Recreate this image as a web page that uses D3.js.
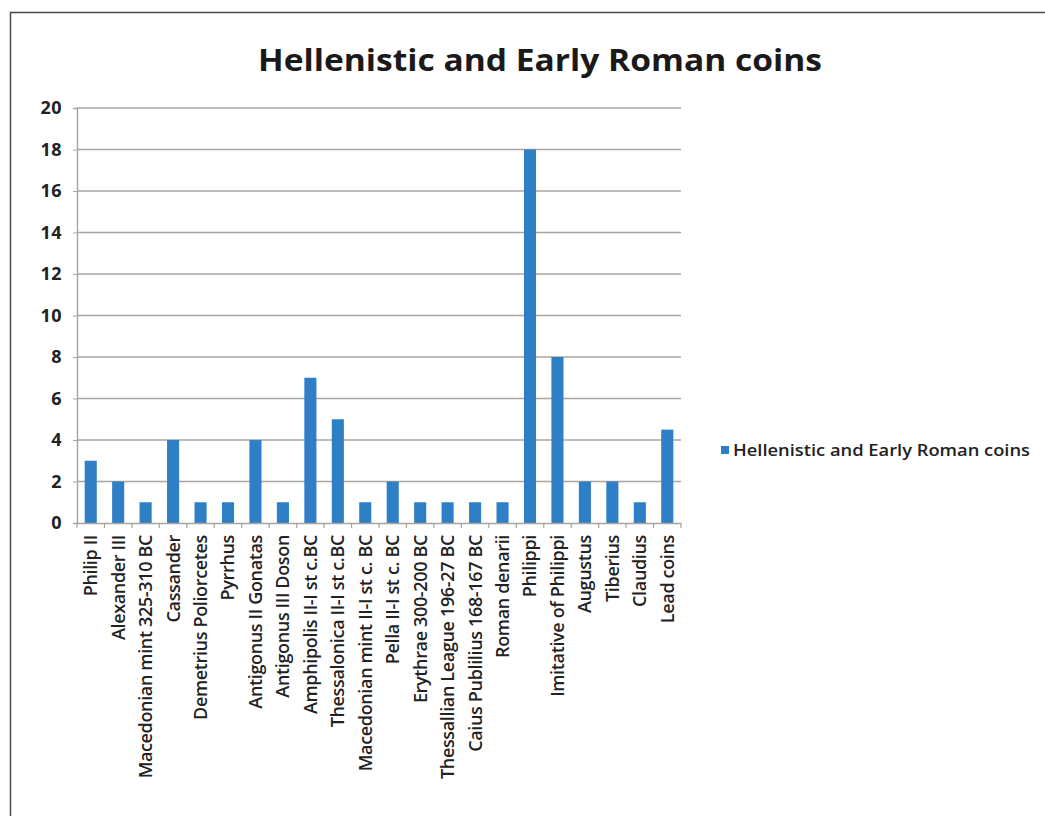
<!DOCTYPE html>
<html><head><meta charset="utf-8">
<script src="https://cdn.jsdelivr.net/npm/d3@7"></script>
<style>
html,body{margin:0;padding:0;background:#fff;}
svg{display:block;}
text{font-family:"Open Sans","Noto Sans",sans-serif;}
</style></head>
<body>
<svg id="c" width="1045" height="816"></svg>
<script>
const categories = ["Philip II","Alexander III","Macedonian mint 325-310 BC","Cassander","Demetrius Poliorcetes","Pyrrhus","Antigonus II Gonatas","Antigonus III Doson","Amphipolis II-I st c.BC","Thessalonica II-I st c.BC","Macedonian mint II-I st c. BC","Pella II-I st c. BC","Erythrae 300-200 BC","Thessallian League 196-27 BC","Caius Publilius 168-167 BC","Roman denarii","Philippi","Imitative of Philippi","Augustus","Tiberius","Claudius","Lead coins"];
const values = [3,2,1,4,1,1,4,1,7,5,1,2,1,1,1,1,18,8,2,2,1,4.5];
const yTicks = [0,2,4,6,8,10,12,14,16,18,20];
const seriesName = "Hellenistic and Early Roman coins";
const titleText = "Hellenistic and Early Roman coins";

const svg = d3.select("#c");
const color = "#2f7fc6";
const gridColor = "#aba49e";

// frame
svg.append("rect").attr("x",10.5).attr("y",12.5).attr("width",1100).attr("height",900)
  .attr("fill","none").attr("stroke","#4a4a4a").attr("stroke-width",1.5);

const x = d3.scaleBand().domain(categories).range([77,681]).paddingInner(0.56).paddingOuter(0.28);
const y = d3.scaleLinear().domain([0,20]).range([523,108]);

// gridlines
svg.append("g").selectAll("line").data(yTicks.filter(d=>d>0)).join("line")
  .attr("x1",77).attr("x2",681).attr("y1",d=>y(d)).attr("y2",d=>y(d))
  .attr("stroke",gridColor).attr("stroke-width",1.4);

// y axis
const ya = svg.append("g").attr("transform","translate(77,0)")
  .call(d3.axisLeft(y).tickValues(yTicks).tickSize(4).tickPadding(11));
ya.select(".domain").attr("stroke",gridColor).attr("stroke-width",1.4);
ya.selectAll(".tick line").attr("stroke",gridColor);
ya.selectAll("text").attr("font-size",18).attr("font-weight",700).attr("fill","#222")
  .attr("font-family","'Open Sans',sans-serif").attr("letter-spacing","0.5");

// bars
svg.append("g").selectAll("rect").data(values).join("rect")
  .attr("x",(d,i)=>x(categories[i])).attr("width",x.bandwidth())
  .attr("y",d=>y(d)).attr("height",d=>y(0)-y(d)).attr("fill",color);

// x axis
const xa = svg.append("g").attr("transform","translate(0,523)")
  .call(d3.axisBottom(x).tickSize(0).tickPadding(0));
xa.select(".domain").attr("stroke",gridColor).attr("stroke-width",1.4);
xa.selectAll(".tick text")
  .attr("transform","rotate(-90)")
  .attr("x",-12).attr("y",0).attr("dy","0.36em")
  .attr("text-anchor","end")
  .attr("font-size",18).attr("font-weight",600).attr("fill","#222")
  .attr("font-family","'Open Sans',sans-serif")
  .attr("letter-spacing","-0.35");
// category separators
svg.append("g").selectAll("line").data(d3.range(categories.length+1)).join("line")
  .attr("x1",i=>77+i*(604/categories.length)).attr("x2",i=>77+i*(604/categories.length))
  .attr("y1",523).attr("y2",528).attr("stroke",gridColor).attr("stroke-width",1.2);

// title
svg.append("text").attr("x",540).attr("y",71).attr("text-anchor","middle")
  .attr("font-size",31).attr("font-weight",700).attr("fill","#1a1a1a")
  .attr("textLength",564).attr("lengthAdjust","spacingAndGlyphs")
  .text(titleText);

// legend
svg.append("rect").attr("x",721).attr("y",446).attr("width",8).attr("height",8).attr("fill",color);
svg.append("text").attr("x",733).attr("y",456).attr("font-size",15.5).attr("font-weight",600)
  .attr("fill","#222").attr("textLength",297).attr("lengthAdjust","spacingAndGlyphs").text(seriesName);
</script>
</body></html>
